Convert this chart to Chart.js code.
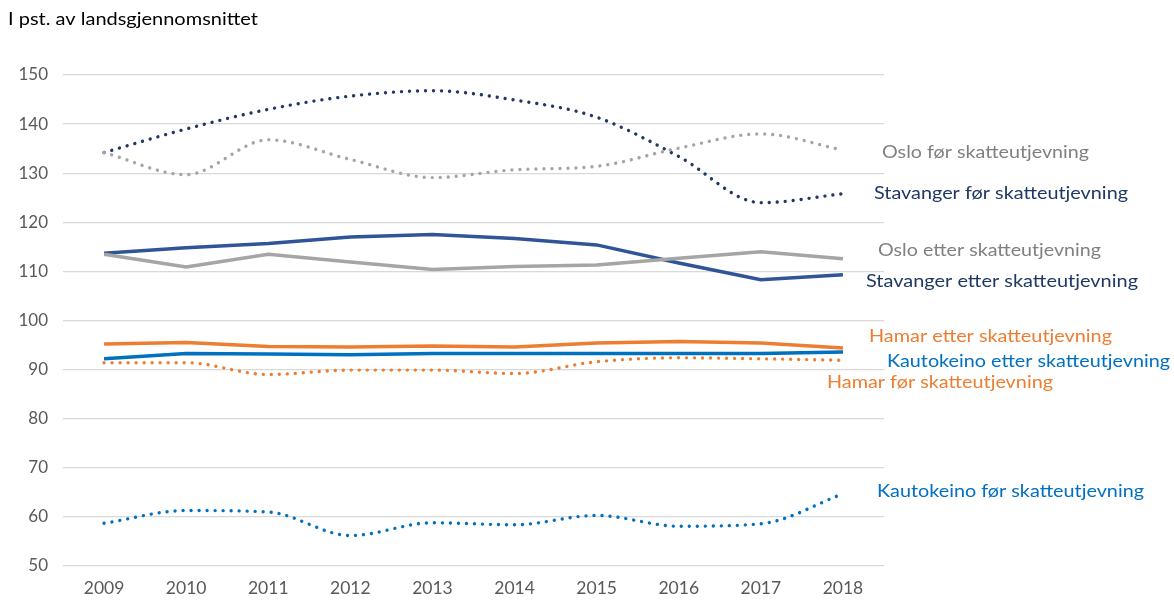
<!DOCTYPE html>
<html><head><meta charset="utf-8">
<script src="https://cdn.jsdelivr.net/npm/chart.js@4/dist/chart.umd.min.js"></script>
<style>html,body{margin:0;padding:0;background:#fff}#wrap{width:1174px;height:603px;position:relative}</style>
</head><body><div id="wrap"><canvas id="c" width="1174" height="603"></canvas></div>
<script>
const years = ['2009','2010','2011','2012','2013','2014','2015','2016','2017','2018'];
const stavangerFor = [134.2,139.0,143.0,145.7,146.8,144.9,141.4,133.4,124.0,125.8];
const osloFor = [134.2,129.7,136.8,132.8,129.1,130.7,131.4,135.1,138.0,134.7];
const stavangerEtter = [113.7,114.8,115.7,117.0,117.5,116.7,115.4,111.7,108.3,109.3];
const osloEtter = [113.5,110.9,113.5,111.9,110.4,111.0,111.3,112.7,114.0,112.6];
const hamarEtter = [95.2,95.5,94.7,94.6,94.8,94.6,95.4,95.7,95.4,94.4];
const kautoEtter = [92.2,93.3,93.2,93.0,93.3,93.3,93.3,93.3,93.3,93.6];
const hamarFor = [91.4,91.4,89.0,89.9,89.9,89.2,91.6,92.4,92.2,91.9];
const kautoFor = [58.7,61.3,61.0,56.2,58.8,58.4,60.3,58.1,58.6,64.7];
const yTicks = [50,60,70,80,90,100,110,120,130,140,150];

const labels = [
  {t:'Oslo før skatteutjevning', c:'#808080', x:882, y:152, w:207},
  {t:'Stavanger før skatteutjevning', c:'#1F3864', x:874, y:193, w:254},
  {t:'Oslo etter skatteutjevning', c:'#808080', x:878, y:250, w:223},
  {t:'Stavanger etter skatteutjevning', c:'#1F3864', x:866, y:281, w:272},
  {t:'Hamar etter skatteutjevning', c:'#ED7D31', x:869, y:336, w:243},
  {t:'Kautokeino etter skatteutjevning', c:'#0070C0', x:887, y:361, w:283},
  {t:'Hamar før skatteutjevning', c:'#ED7D31', x:827, y:382, w:226},
  {t:'Kautokeino før skatteutjevning', c:'#0070C0', x:877, y:491, w:267}
];
const FONT = 'Lato, "Open Sans", sans-serif';

function fitText(ctx, t, x, y, w){
  const m = ctx.measureText(t).width;
  ctx.save();
  ctx.translate(x, y);
  ctx.scale(w/m, 1);
  ctx.fillText(t, 0, 0);
  ctx.restore();
}

const textPlugin = {
  id:'texts',
  afterDraw(chart){
    const ctx = chart.ctx;
    ctx.save();
    ctx.textBaseline = 'middle';
    ctx.textAlign = 'left';
    ctx.font = '18px ' + FONT;
    labels.forEach(l => { ctx.fillStyle = l.c; fitText(ctx, l.t, l.x, l.y, l.w); });
    ctx.fillStyle = '#000';
    ctx.font = '17px ' + FONT;
    fitText(ctx, 'I pst. av landsgjennomsnittet', 8, 20, 250);
    ctx.restore();
  }
};

function solid(data, color){
  return {data, borderColor:color, backgroundColor:color, borderWidth:3.5, pointRadius:0, tension:0, fill:false};
}
function dotted(data, color){
  return {data, borderColor:color, backgroundColor:color, borderWidth:3.4, pointRadius:0,
    cubicInterpolationMode:'monotone',
    borderDash:[0.01,8], borderCapStyle:'round', fill:false};
}

new Chart(document.getElementById('c'), {
  type:'line',
  data:{labels:years, datasets:[
    dotted(kautoFor,'#0070C0'),
    dotted(hamarFor,'#ED7D31'),
    solid(kautoEtter,'#0070C0'),
    solid(hamarEtter,'#ED7D31'),
    solid(osloEtter,'#A5A5A5'),
    solid(stavangerEtter,'#2F5597'),
    dotted(osloFor,'#A5A5A5'),
    dotted(stavangerFor,'#203864')
  ]},
  options:{
    responsive:false, animation:false,
    layout:{padding:{left:0, right:290, top:75, bottom:0}},
    plugins:{legend:{display:false}, tooltip:{enabled:false}},
    scales:{
      x:{offset:true,
        grid:{display:false, drawTicks:false},
        border:{display:false},
        ticks:{color:'#595959', font:{size:17.5, family:FONT}, padding:12, maxRotation:0},
        afterFit(s){ s.height = 37; }
      },
      y:{min:50, max:150,
        grid:{color:'#D9D9D9', lineWidth:1.3, drawTicks:false},
        border:{display:false},
        afterBuildTicks(s){ s.ticks = yTicks.map(v=>({value:v})); },
        ticks:{color:'#595959', font:{size:17, family:FONT}, padding:15},
        afterFit(s){ s.width = 63; }
      }
    }
  },
  plugins:[textPlugin]
});
</script></body></html>
